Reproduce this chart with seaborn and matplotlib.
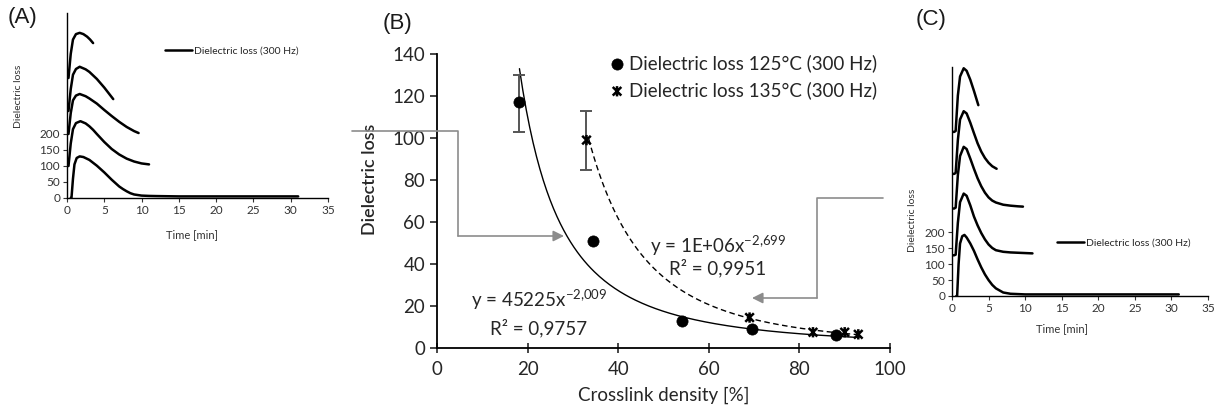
import numpy as np
import matplotlib
matplotlib.use("Agg")
import matplotlib.pyplot as plt
import seaborn as sns
from matplotlib.lines import Line2D
from matplotlib.patches import FancyArrowPatch
from matplotlib.path import Path

sns.set_style("ticks")
plt.rcParams["font.family"] = ["Lato", "DejaVu Sans"]
plt.rcParams["mathtext.default"] = "regular"

# ---------------- panel A : dielectric loss vs time (stacked runs)
a_t1 = [0.5, 0.6, 0.8, 1.0, 1.3, 1.7, 2.2, 3, 4, 5, 6, 7, 7.5, 8, 8.5, 9, 10, 11, 12, 15, 20, 25, 31]
a_y1 = [0, 0, 60, 105, 125, 130, 128, 119, 101, 80, 57, 36, 28, 21, 15, 11, 7.5, 6.5, 6, 5, 5, 5, 5]
a_t2 = [0, 0.2, 0.5, 0.8, 1.2, 1.8, 2.5, 3, 3.5, 4, 5, 6, 7, 8, 9, 10, 11]
a_y2 = [100, 100, 170, 215, 234, 240, 233, 224, 213, 200, 175, 153, 136, 123, 114, 108, 105]
a_t3 = [0, 0.2, 0.5, 0.8, 1.2, 1.7, 2.5, 3, 4, 5, 6, 7, 8, 9, 9.6]
a_y3 = [200, 200, 265, 305, 320, 325, 318, 311, 295, 275, 256, 238, 222, 209, 203]
a_t4 = [0, 0.2, 0.5, 0.8, 1.2, 1.7, 2.5, 3, 4, 5, 6.2]
a_y4 = [272, 272, 340, 385, 403, 410, 402, 394, 372, 345, 309]
a_t5 = [0, 0.2, 0.5, 0.8, 1.2, 1.7, 2.2, 2.7, 3.1, 3.5]
a_y5 = [375, 375, 450, 495, 512, 516, 512, 504, 495, 484]

# ---------------- panel B : dielectric loss vs crosslink density
b_x125 = [18, 34.5, 54, 69.5, 88]
b_y125 = [117, 51, 13, 9, 6]
b_x135 = [33, 69, 83, 90, 93]
b_y135 = [99, 14.5, 7.5, 7.5, 6.5]
# error bars (x, value, lower, upper)
err_x = [18, 33]
err_y = [117, 99]
err_lo = [103, 85]
err_hi = [130, 113]
# power-law trend lines  y = a * x^b  (coef, exponent, x start, x end)
fit125 = (45225, -2.009, 18.2, 93)
fit135 = (1.3e6, -2.699, 33.5, 93)

# ---------------- panel C : dielectric loss vs time (stacked runs)
c_t1 = [0.6, 0.7, 0.9, 1.1, 1.4, 1.7, 2.0, 2.5, 3, 3.5, 4, 4.5, 5, 5.5, 6, 7, 8, 10, 15, 20, 25, 31]
c_y1 = [0, 0, 100, 165, 188, 192, 184, 165, 142, 115, 90, 68, 50, 35, 24, 11, 7, 5, 5, 5, 5, 5]
c_t2 = [0, 0.3, 0.5, 0.8, 1.1, 1.6, 2, 2.5, 3, 3.5, 4, 4.5, 5, 5.5, 6, 7, 8, 9, 10, 11]
c_y2 = [128, 128, 130, 230, 295, 322, 315, 285, 250, 222, 198, 178, 162, 151, 144, 139, 137, 136, 135, 134]
c_t3 = [0, 0.3, 0.5, 0.8, 1.1, 1.6, 2, 2.5, 3, 3.5, 4, 4.5, 5, 5.5, 6, 7, 8, 9, 9.7]
c_y3 = [275, 275, 278, 380, 440, 469, 462, 432, 400, 370, 345, 325, 310, 300, 294, 287, 284, 282, 281]
c_t4 = [0, 0.3, 0.5, 0.8, 1.1, 1.6, 2, 2.5, 3, 3.5, 4, 4.5, 5, 5.5, 6.1]
c_y4 = [384, 384, 387, 490, 555, 581, 574, 545, 512, 480, 454, 434, 419, 408, 400]
c_t5 = [0, 0.3, 0.5, 0.8, 1.1, 1.6, 2, 2.5, 3, 3.6]
c_y5 = [516, 516, 519, 630, 690, 716, 708, 680, 645, 600]

W, H = 1219, 409
fig = plt.figure(figsize=(W / 100, H / 100), dpi=100)


def box(x0, y0, x1, y1):
    # pixel box -> figure fraction [left, bottom, width, height]
    return [x0 / W, 1 - y1 / H, (x1 - x0) / W, (y1 - y0) / H]


def px(x, y):
    return (x / W, 1 - y / H)


def time_panel(ax, curves, ytop, leg_pos, ylab_pos, xlab_pos):
    for i, (t, y) in enumerate(curves):
        sns.lineplot(x=t, y=y, ax=ax, color="black", lw=1.8, estimator=None,
                     sort=False, label="Dielectric loss (300 Hz)" if i == 0 else None)
    ax.set_xlim(0, 35)
    ax.set_ylim(0, ytop)
    ax.set_xticks(range(0, 36, 5))
    ax.set_yticks([0, 50, 100, 150, 200])
    ax.tick_params(labelsize=8.5, length=3, width=0.8, colors="#333333", pad=2)
    for s in ["top", "right"]:
        ax.spines[s].set_visible(False)
    for s in ["left", "bottom"]:
        ax.spines[s].set_linewidth(1.0)
        ax.spines[s].set_color("black")
    ax.set_xlabel("Time [min]", fontsize=8, color="#333333")
    ax.set_ylabel("Dielectric loss", fontsize=7.5, color="#333333")
    ax.xaxis.set_label_coords(*xlab_pos)
    ax.yaxis.set_label_coords(*ylab_pos)
    ax.legend(loc="center left", bbox_to_anchor=leg_pos, frameon=False, fontsize=7.5,
              handlelength=2.6, handletextpad=0.2, borderpad=0, borderaxespad=0)
    ax.patch.set_alpha(0)


# ---- A
axA = fig.add_axes(box(67, 13, 328, 198))
time_panel(axA, [(a_t1, a_y1), (a_t2, a_y2), (a_t3, a_y3), (a_t4, a_y4), (a_t5, a_y5)],
           578, (0.375, 0.795), (-0.17, 0.55), (0.48, -0.17))

# ---- C
axC = fig.add_axes(box(952, 67, 1208, 296))
time_panel(axC, [(c_t1, c_y1), (c_t2, c_y2), (c_t3, c_y3), (c_t4, c_y4), (c_t5, c_y5)],
           720, (0.41, 0.23), (-0.135, 0.33), (0.43, -0.12))

# ---- B
axB = fig.add_axes(box(437, 54, 890, 348))
a, b, x0, x1 = fit125
xs = np.linspace(x0, x1, 200)
sns.lineplot(x=xs, y=a * xs ** b, ax=axB, color="black", lw=1.0, estimator=None)
a, b, x0, x1 = fit135
xs = np.linspace(x0, x1, 200)
sns.lineplot(x=xs, y=a * xs ** b, ax=axB, color="black", lw=1.0, estimator=None,
             linestyle=(0, (4, 2.5)))

axB.errorbar(err_x, err_y, yerr=[np.subtract(err_y, err_lo), np.subtract(err_hi, err_y)],
             fmt="none", ecolor="#555555", elinewidth=1.4, capsize=4, capthick=1.4)

star = Path([(-1, -1), (1, 1), (-1, 1), (1, -1), (0, -1.2), (0, 1.2)],
            [Path.MOVETO, Path.LINETO, Path.MOVETO, Path.LINETO, Path.MOVETO, Path.LINETO])
sns.scatterplot(x=b_x125, y=b_y125, ax=axB, color="black", s=65, edgecolor="black",
                linewidth=0.5, marker="o", label="Dielectric loss 125°C (300 Hz)", zorder=5)
sns.scatterplot(x=b_x135, y=b_y135, ax=axB, color="black", s=55, edgecolor="black",
                facecolor="none", linewidth=1.8, marker=star,
                label="Dielectric loss 135°C (300 Hz)", zorder=5)

fs = 13.5
axB.set_xlim(0, 100)
axB.set_ylim(0, 140)
axB.set_xticks(range(0, 101, 20))
axB.set_yticks(range(0, 141, 20))
axB.tick_params(axis="x", direction="inout", length=7, width=1.2, pad=6)
axB.tick_params(axis="y", direction="out", length=5, width=1.2)
axB.tick_params(labelsize=fs, colors="#262626")
for s in ["top", "right"]:
    axB.spines[s].set_visible(False)
for s in ["left", "bottom"]:
    axB.spines[s].set_linewidth(1.3)
    axB.spines[s].set_color("black")
axB.set_xlabel("Crosslink density [%]", fontsize=fs, color="#262626")
axB.xaxis.set_label_coords(0.5, -0.13)
axB.set_ylabel("Dielectric loss", fontsize=13, color="#262626", fontweight="semibold")
axB.yaxis.set_label_coords(-0.13, 0.575)
axB.legend(loc="upper left", bbox_to_anchor=(0.385, 1.0), frameon=False, fontsize=fs,
           handlelength=0.6, handletextpad=0.35, labelspacing=0.5, borderpad=0,
           borderaxespad=0)
axB.text(62, 48.5, "y = 1E+06x$^{-2{,}699}$", ha="center", va="center", fontsize=fs,
         color="#262626")
axB.text(62, 38, "R² = 0,9951", ha="center", va="center", fontsize=fs, color="#262626")
axB.text(22.5, 23, "y = 45225x$^{-2{,}009}$", ha="center", va="center", fontsize=fs,
         color="#262626")
axB.text(22.5, 9.5, "R² = 0,9757", ha="center", va="center", fontsize=fs, color="#262626")
axB.patch.set_alpha(0)

# ---- connector arrows between panels
gray = "#8c8c8c"
fig.add_artist(Line2D([px(352, 0)[0], px(458, 0)[0], px(458, 0)[0]],
                      [px(0, 131)[1], px(0, 131)[1], px(0, 236)[1]],
                      transform=fig.transFigure, color=gray, lw=1.2))
fig.add_artist(FancyArrowPatch(px(458, 236), px(564, 236), transform=fig.transFigure,
                               arrowstyle="-|>", mutation_scale=16, color=gray, lw=1.2,
                               shrinkA=0, shrinkB=0))
fig.add_artist(Line2D([px(883, 0)[0], px(817, 0)[0], px(817, 0)[0]],
                      [px(0, 198)[1], px(0, 198)[1], px(0, 298)[1]],
                      transform=fig.transFigure, color=gray, lw=1.2))
fig.add_artist(FancyArrowPatch(px(817, 298), px(752, 298), transform=fig.transFigure,
                               arrowstyle="-|>", mutation_scale=16, color=gray, lw=1.2,
                               shrinkA=0, shrinkB=0))

# ---- panel labels
for lab, (x, y) in [("(A)", (8, 18)), ("(B)", (383, 23)), ("(C)", (916, 20))]:
    fig.text(*px(x, y), lab, fontsize=16, family=["Liberation Sans", "DejaVu Sans"],
             va="center", ha="left", color="#1a1a1a")

fig.savefig("out.png", dpi=100)
